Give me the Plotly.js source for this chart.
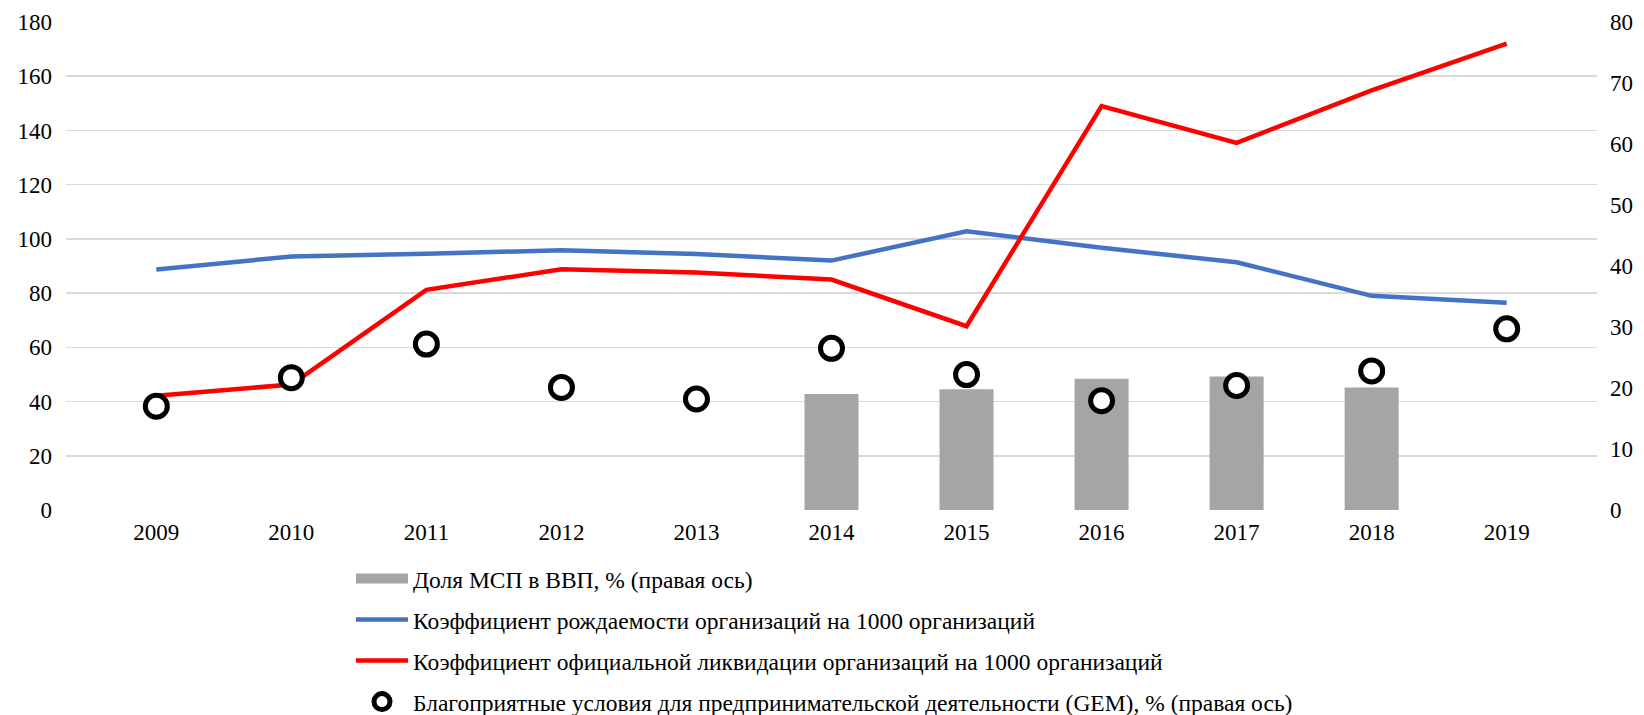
<!DOCTYPE html>
<html>
<head>
<meta charset="utf-8">
<script src="https://cdn.plot.ly/plotly-3.0.1.min.js"></script>
<style>html,body{margin:0;padding:0;background:#fff;}#chart{width:1644px;height:715px;}</style>
</head>
<body>
<div id="chart"></div>
<script>
const years = ['2009','2010','2011','2012','2013','2014','2015','2016','2017','2018','2019'];
const smeShareGDP = [null, null, null, null, null, 19.0, 19.8, 21.5, 21.9, 20.1, null];
const birthRate = [88.7, 93.5, 94.5, 95.8, 94.4, 92.0, 102.8, 96.7, 91.4, 79.0, 76.4];
const liquidationRate = [42.1, 46.3, 81.2, 88.8, 87.6, 85.0, 67.8, 149.0, 135.4, 154.8, 172.0];
const gemConditions = [17.0, 21.7, 27.2, 20.1, 18.2, 26.5, 22.2, 17.9, 20.4, 22.8, 29.7];

const names = [
  'Доля МСП в ВВП, % (правая ось)',
  'Коэффициент рождаемости организаций на 1000 организаций',
  'Коэффициент официальной ликвидации организаций на 1000 организаций',
  'Благоприятные условия для предпринимательской деятельности (GEM), % (правая ось)'
];

const FONT = 'Liberation Serif, Times New Roman, serif';
const FS = 23;
const LFS = 23.5;

const traces = [
  {type:'bar', x:years, y:smeShareGDP, name:names[0], yaxis:'y2', width:0.4,
   marker:{color:'#A5A5A5'}, legendgroup:'a', showlegend:false},
  // legend key for the bar series (wide grey rectangle as in the reference)
  {type:'scatter', mode:'lines', x:[null], y:[null], name:names[0], yaxis:'y2',
   line:{color:'#A5A5A5', width:10}, legendgroup:'a', hoverinfo:'skip'},
  {type:'scatter', mode:'lines', x:years, y:birthRate, name:names[1],
   line:{color:'#4472C4', width:4.5}, legendgroup:'b'},
  {type:'scatter', mode:'lines', x:years, y:liquidationRate, name:names[2],
   line:{color:'#FF0000', width:4.5}, legendgroup:'c'},
  {type:'scatter', mode:'markers', x:years, y:gemConditions, name:names[3], yaxis:'y2',
   marker:{symbol:'circle', size:22, color:'#FFFFFF', line:{color:'#000000', width:5}}, legendgroup:'d'}
];

const layout = {
  width:1644, height:715,
  margin:{l:66, r:47, t:22, b:205, autoexpand:false},
  paper_bgcolor:'#fff', plot_bgcolor:'#fff',
  font:{family:FONT, size:FS, color:'#000'},
  showlegend:true,
  xaxis:{type:'category', showgrid:false, zeroline:false, showline:false, ticks:'',
         tickfont:{family:FONT, size:FS}, ticklabelstandoff:6, automargin:false},
  yaxis:{range:[0,180], dtick:20, tick0:0, showgrid:true, gridcolor:'#D9D9D9', gridwidth:1.5,
         zeroline:false, showline:false, ticks:'', tickfont:{family:FONT, size:FS}, ticklabelstandoff:13, automargin:false},
  yaxis2:{range:[0,80], dtick:10, tick0:0, overlaying:'y', side:'right', showgrid:false,
          zeroline:false, showline:false, ticks:'', tickfont:{family:FONT, size:FS}, ticklabelstandoff:12, automargin:false},
  legend:{orientation:'v', xref:'container', yref:'container', x:0.2135, y:0.2215, xanchor:'left', yanchor:'top',
          traceorder:'grouped', tracegroupgap:7.5, font:{family:FONT, size:LFS}, itemwidth:52,
          bgcolor:'rgba(0,0,0,0)'}
};

Plotly.newPlot('chart', traces, layout, {displayModeBar:false, staticPlot:true});
</script>
</body>
</html>
